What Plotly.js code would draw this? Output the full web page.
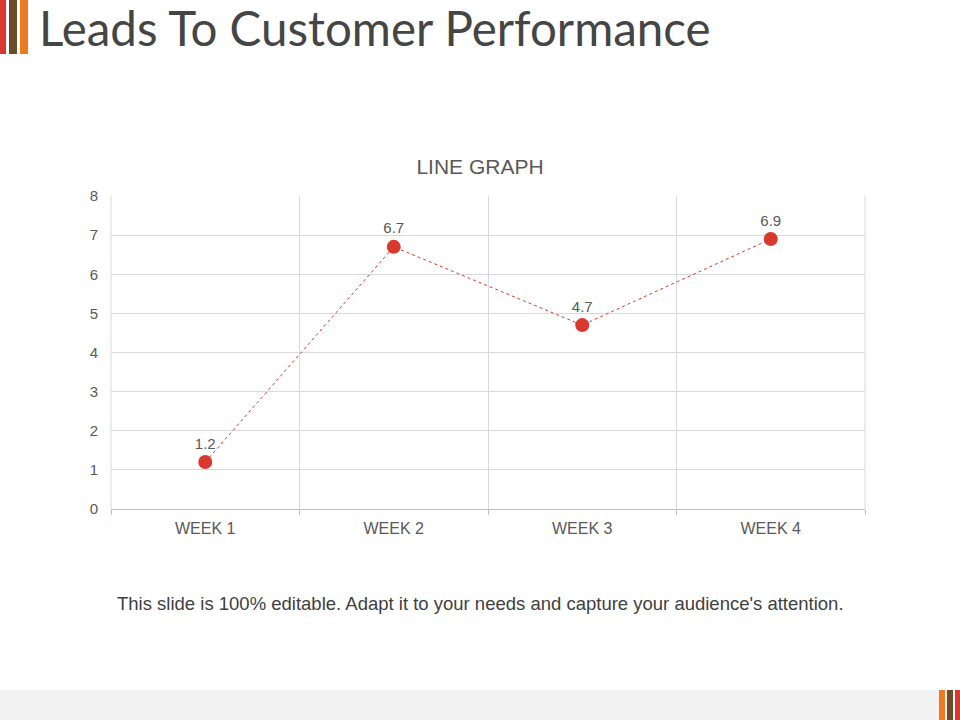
<!DOCTYPE html>
<html>
<head>
<meta charset="utf-8">
<script src="https://cdn.plot.ly/plotly-3.0.1.min.js"></script>
<style>
  html, body { margin: 0; padding: 0; background: #ffffff; }
  #slide { position: relative; width: 960px; height: 720px; overflow: hidden; }
  #chart { position: absolute; left: 0; top: 0; width: 960px; height: 720px; }
  .bar { position: absolute; }
  #band { position: absolute; left: 0; top: 690px; width: 960px; height: 30px; background: #f2f2f2; }
</style>
</head>
<body>
<div id="slide">
  <div id="band"></div>
  <div id="chart"></div>
  <!-- corner stripes -->
  <div class="bar" style="left:0;top:0;width:6px;height:54px;background:#d9382e"></div>
  <div class="bar" style="left:9px;top:0;width:8px;height:54px;background:#6b4b2a"></div>
  <div class="bar" style="left:20px;top:0;width:8px;height:54px;background:#f07a20"></div>
  <div class="bar" style="left:939px;top:690px;width:6px;height:30px;background:#f07a20"></div>
  <div class="bar" style="left:947px;top:690px;width:6px;height:30px;background:#6b4b2a"></div>
  <div class="bar" style="left:955px;top:690px;width:5px;height:30px;background:#d9382e"></div>
</div>
<script>
// week values
const weeks = ['WEEK 1', 'WEEK 2', 'WEEK 3', 'WEEK 4'];
const leads = [1.2, 6.7, 4.7, 6.9];
const yTicks = [0, 1, 2, 3, 4, 5, 6, 7, 8];

const trace = {
  x: weeks,
  y: leads,
  type: 'scatter',
  mode: 'lines+markers+text',
  text: leads.map((v) => v.toFixed(1)),
  textposition: 'top center',
  textfont: { family: 'Liberation Sans, Arial, sans-serif', size: 15, color: '#595959' },
  line: { color: '#d9382e', width: 1, dash: 'dot' },
  marker: { color: '#d9382e', size: 14 },
  cliponaxis: false,
  hoverinfo: 'none',
};

const layout = {
  width: 960,
  height: 720,
  margin: { l: 111, r: 95, t: 196, b: 211 },
  paper_bgcolor: 'rgba(0,0,0,0)',
  plot_bgcolor: '#ffffff',
  showlegend: false,
  font: { family: 'Liberation Sans, Arial, sans-serif', color: '#595959' },
  title: {
    text: 'LINE GRAPH',
    font: { size: 21, color: '#595959' },
    x: 0.5,
    xanchor: 'center',
    y: 1 - 167 / 720,
    yanchor: 'middle',
  },
  xaxis: {
    type: 'category',
    range: [-0.5, 3.5],
    tickson: 'boundaries',
    ticks: 'outside',
    ticklen: 5,
    tickcolor: '#bfbfbf',
    showline: true,
    linecolor: '#bfbfbf',
    showgrid: true,
    gridcolor: '#d9d9d9',
    tickfont: { size: 16, color: '#595959' },
    ticklabelstandoff: 5,
    zeroline: false,
    fixedrange: true,
  },
  yaxis: {
    range: [0, 8],
    tickvals: yTicks,
    showgrid: true,
    gridcolor: '#d9d9d9',
    zeroline: false,
    showline: false,
    tickfont: { size: 15, color: '#595959' },
    ticklabelstandoff: 12,
    fixedrange: true,
  },
  shapes: [{
    type: 'line', xref: 'paper', yref: 'paper',
    x0: 1, x1: 1, y0: 0, y1: 1,
    line: { color: '#d9d9d9', width: 1 },
  }, {
    type: 'line', xref: 'paper', yref: 'paper',
    x0: 0, x1: 0, y0: 0, y1: 1,
    line: { color: '#d9d9d9', width: 1 },
  }],
  annotations: [{
    text: 'Leads To Customer Performance',
    xref: 'paper', yref: 'paper',
    x: -74 / 754, xanchor: 'left',
    y: 1 + (196 - 27) / 313, yanchor: 'middle',
    showarrow: false,
    font: { family: 'Lato, sans-serif', size: 47.5, color: '#454545' },
  }, {
    text: "This slide is 100% editable. Adapt it to your needs and capture your audience's attention.",
    xref: 'paper', yref: 'paper',
    x: (480 - 111) / 754, xanchor: 'center',
    y: -(603 - 509) / 313, yanchor: 'middle',
    showarrow: false,
    font: { family: 'Liberation Sans, Arial, sans-serif', size: 18.5, color: '#404040' },
  }],
};

Plotly.newPlot('chart', [trace], layout, { displayModeBar: false, staticPlot: true });
</script>
</body>
</html>
